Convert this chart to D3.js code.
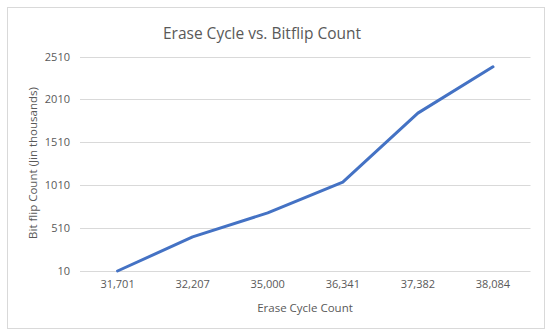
<!DOCTYPE html>
<html>
<head>
<meta charset="utf-8">
<script src="https://cdn.jsdelivr.net/npm/d3@7"></script>
<style>
  body { margin: 0; background: #fff; }
  text { font-family: "Open Sans", sans-serif; fill: #595959; }
</style>
</head>
<body>
<div id="chart"></div>
<script>
// erase cycles (categories) and bitflips in thousands
const cycles = ["31,701", "32,207", "35,000", "36,341", "37,382", "38,084"];
const bitflips = [10, 407, 687, 1045, 1850, 2390];
const yTicks = [10, 510, 1010, 1510, 2010, 2510];

const width = 550, height = 335;
const margin = {top: 56.5, right: 19.5, bottom: 64, left: 80};

const svg = d3.select("#chart")
  .append("svg")
  .attr("width", width)
  .attr("height", height);

// outer frame
svg.append("rect")
  .attr("x", 7.5).attr("y", 7.5)
  .attr("width", 537).attr("height", 321)
  .attr("fill", "#fff")
  .attr("stroke", "#d9d9d9");

let xScale = d3.scaleBand()
  .domain(cycles)
  .range([margin.left, width - margin.right]);

let yScale = d3.scaleLinear()
  .domain([10, 2510])
  .range([271, margin.top]);

// gridlines
svg.append("g")
  .selectAll("line")
  .data(yTicks)
  .enter()
  .append("line")
    .attr("x1", margin.left)
    .attr("x2", width - margin.right)
    .attr("y1", d => Math.round(yScale(d)) + 0.5)
    .attr("y2", d => Math.round(yScale(d)) + 0.5)
    .attr("stroke", "#d9d9d9")
    .attr("stroke-width", 1);

// y axis labels
svg.append("g")
  .attr("transform", `translate(${margin.left - 10}, 0)`)
  .call(d3.axisLeft(yScale).tickValues(yTicks).tickFormat(d3.format("d")).tickSize(0).tickPadding(0))
  .call(g => g.select(".domain").remove())
  .call(g => g.selectAll("text").attr("font-size", "11px").attr("fill", "#595959")
    .attr("font-family", "'Open Sans', sans-serif"));

// x axis labels
svg.append("g")
  .attr("transform", `translate(0, 280)`)
  .call(d3.axisBottom(xScale).tickSize(0).tickPadding(0))
  .call(g => g.select(".domain").remove())
  .call(g => g.selectAll("text").attr("font-size", "11px").attr("fill", "#595959")
    .attr("font-family", "'Open Sans', sans-serif"));

// the line
const line = d3.line()
  .x((d, i) => xScale(cycles[i]) + xScale.bandwidth() / 2)
  .y(d => yScale(d));

svg.append("path")
  .datum(bitflips)
  .attr("d", line)
  .attr("fill", "none")
  .attr("stroke", "#4472C4")
  .attr("stroke-width", 3)
  .attr("stroke-linejoin", "round")
  .attr("stroke-linecap", "round");

// titles
svg.append("text")
  .attr("x", 262).attr("y", 39)
  .attr("text-anchor", "middle")
  .attr("font-size", "15.5px")
  .text("Erase Cycle vs. Bitflip Count");

svg.append("text")
  .attr("x", 305).attr("y", 312)
  .attr("text-anchor", "middle")
  .attr("font-size", "11.5px")
  .text("Erase Cycle Count");

svg.append("text")
  .attr("transform", "translate(37, 163) rotate(-90)")
  .attr("text-anchor", "middle")
  .attr("font-size", "11.5px")
  .text("Bit flip Count (Jin thousands)");
</script>
</body>
</html>
